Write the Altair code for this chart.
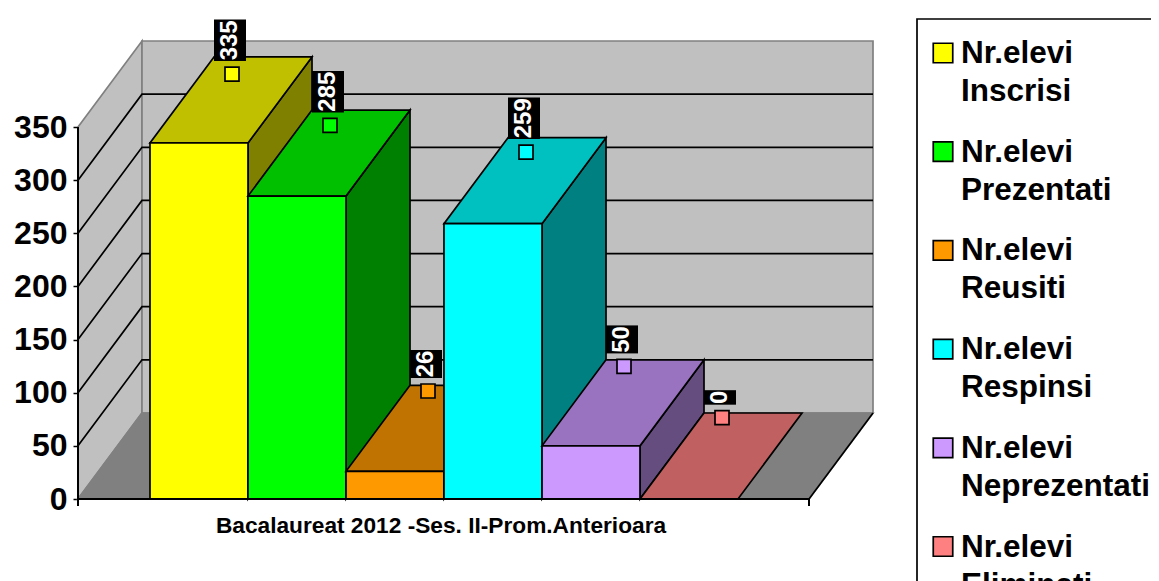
import altair as alt
import pandas as pd

# ---- data -------------------------------------------------------------
names_1 = ["Nr.elevi"] * 6
names_2 = ["Inscrisi", "Prezentati", "Reusiti", "Respinsi", "Neprezentati", "Eliminati"]
values = [335, 285, 26, 259, 50, 0]
front = ["#FFFF00", "#00FF00", "#FF9900", "#00FFFF", "#CC99FF", "#FF8080"]
top = ["#C0C000", "#00C000", "#C07300", "#00C0C0", "#9973C0", "#C06060"]
side = ["#808000", "#008000", "#804D00", "#008080", "#664D80", "#804040"]
ticks = [0, 50, 100, 150, 200, 250, 300, 350]
x_title = "Bacalaureat 2012 -Ses. II-Prom.Anterioara"

# ---- layout: x in bar widths, y in value units --------------------------
PX = 98.0                 # px per bar width
KY = 372.0 / 350.0        # px per value unit
X0, Y0 = 78.0, 498.0      # page position of the origin
DX = 64.0 / PX            # oblique depth along x
DY = 86.0 / KY            # oblique depth along y
FLOOR = 731.0 / PX        # front floor length
START = 72.0 / PX         # gap before the first bar
W = 1073                  # plot width: the page keeps the picture within 1143 px


def px(p):
    return (p - X0) / PX


def py(p):
    return (Y0 - p) / KY


xs = alt.Scale(domain=[0, W / PX], range=[0, W], nice=False, zero=False)
ys = alt.Scale(domain=[py(580), py(7)], range=[573, 0], nice=False, zero=False)

AX = alt.Axis(
    values=ticks, domain=False, grid=False, title=None, tickColor="black",
    tickWidth=1.5, tickSize=5, labelFont="Liberation Sans", labelFontWeight="bold",
    labelFontSize=32, labelColor="black", labelPadding=6, labelOverlap=False)


def X(f="x"):
    return alt.X(f"{f}:Q", scale=xs, axis=None)


def Y(f="y"):
    return alt.Y(f"{f}:Q", scale=ys, axis=AX)


STROKE = dict(stroke="black", strokeWidth=1.7)


def vface(x0, x1, b0, t0, b1, t1, color, **kw):
    """Face with vertical end edges."""
    d = pd.DataFrame({"x": [x0, x1], "y": [t0, t1], "y2": [b0, b1]})
    style = {**STROKE, **kw}
    return alt.Chart(d).mark_area(color=color, orient="vertical", **style).encode(
        x=X(), y=Y(), y2=alt.Y2("y2:Q"))


def hface(y0, y1, l0, r0, l1, r1, color, **kw):
    """Face with horizontal end edges."""
    d = pd.DataFrame({"y": [y0, y1], "x": [l0, l1], "x2": [r0, r1]})
    style = {**STROKE, **kw}
    return alt.Chart(d).mark_area(color=color, orient="horizontal", **style).encode(
        y=Y(), x=X(), x2=alt.X2("x2:Q"))


def line(xv, yv, color="black", width=1.7):
    d = pd.DataFrame({"x": xv, "y": yv, "o": range(len(xv))})
    return alt.Chart(d).mark_line(color=color, strokeWidth=width).encode(
        x=X(), y=Y(), order="o:Q")


layers = []
GREY = "#808080"
WALL = "#C0C0C0"
TOP = ticks[-1]

# walls and floor
layers.append(vface(0, DX, 0, TOP, DY, TOP + DY, WALL, stroke=GREY))
layers.append(vface(DX, DX + FLOOR, DY, TOP + DY, DY, TOP + DY, WALL, stroke=GREY))
layers.append(hface(0, DY, 0, FLOOR, DX, DX + FLOOR, GREY, stroke=GREY))

# gridlines
for t in ticks[1:-1]:
    layers.append(line([0, DX, DX + FLOOR], [t, t + DY, t + DY]))
layers.append(line([FLOOR, FLOOR + DX], [0, DY]))

# bars, left to right
for i, v in enumerate(values):
    l, r = START + i, START + i + 1
    if v > 0:
        layers.append(vface(r, r + DX, 0, v, DY, v + DY, side[i]))
    layers.append(hface(v, v + DY, l, r, l + DX, r + DX, top[i]))
    if v > 0:
        layers.append(vface(l, r, 0, v, 0, v, front[i]))

# axes lines over the bars
layers.append(line([0, 0], [py(505), TOP], width=2))
layers.append(line([0, FLOOR], [0, 0], width=2.2))
layers.append(line([FLOOR, FLOOR], [py(505), 0], width=2))

# data labels with their small markers
for i, v in enumerate(values):
    mx = START + i + 82.0 / PX
    my = 76.5 + 0.965 * v
    txt = str(v)
    h = 13.5 * len(txt) + 1
    bottom = my + 13 / KY
    cx = mx - 2 / PX
    box = pd.DataFrame({"x": [cx - 16 / PX], "x2": [cx + 16 / PX],
                        "y": [bottom], "y2": [bottom + h / KY]})
    layers.append(alt.Chart(box).mark_rect(color="black").encode(
        x=X(), x2="x2:Q", y=Y(), y2="y2:Q"))
    lab = pd.DataFrame({"x": [cx], "y": [bottom + h / 2 / KY], "t": [txt]})
    layers.append(alt.Chart(lab).mark_text(
        angle=270, font="Liberation Sans", fontWeight="bold", fontSize=24,
        color="white", align="center", baseline="middle").encode(
        x=X(), y=Y(), text="t:N"))
    m = pd.DataFrame({"x": [mx], "y": [my]})
    layers.append(alt.Chart(m).mark_point(
        shape="square", filled=True, size=196, fill=front[i], fillOpacity=1,
        stroke="black", strokeWidth=1.7, opacity=1).encode(x=X(), y=Y()))

# category title
title_df = pd.DataFrame({"x": [px(441)], "y": [py(525)], "t": [x_title]})
layers.append(alt.Chart(title_df).mark_text(
    font="Liberation Sans", fontWeight="bold", fontSize=22.7, color="black",
    align="center", baseline="middle").encode(x=X(), y=Y(), text="t:N"))

# legend box, running past the picture's edge
layers.append(alt.Chart(pd.DataFrame({"x": [px(917)], "x2": [px(1300)],
                                      "y": [py(700)], "y2": [py(18)]})).mark_rect(
    fill="white", stroke="black", strokeWidth=1.7).encode(
    x=X(), x2="x2:Q", y=Y(), y2="y2:Q"))
for i in range(len(values)):
    yc = 52 + 98.7 * i
    layers.append(alt.Chart(pd.DataFrame({"x": [px(943)], "y": [py(yc)]})).mark_point(
        shape="square", filled=True, size=380, fill=front[i], fillOpacity=1,
        stroke="black", strokeWidth=1.7, opacity=1).encode(x=X(), y=Y()))
    rows = pd.DataFrame({"x": [px(961), px(961)], "y": [py(yc + 1), py(yc + 39)],
                         "t": [names_1[i], names_2[i]]})
    layers.append(alt.Chart(rows).mark_text(
        font="Liberation Sans", fontWeight="bold", fontSize=31.5, color="black",
        align="left", baseline="middle").encode(x=X(), y=Y(), text="t:N"))

chart = alt.layer(*layers).resolve_scale(x="shared", y="shared").properties(
    width=W, height=573,
    padding={"left": 70, "right": 0, "top": 0, "bottom": 0},
    autosize=alt.AutoSizeParams(type="none"),
    background="white",
).configure_view(stroke=None)

chart.save("out.html", embed_options={"renderer": "svg", "actions": False})
